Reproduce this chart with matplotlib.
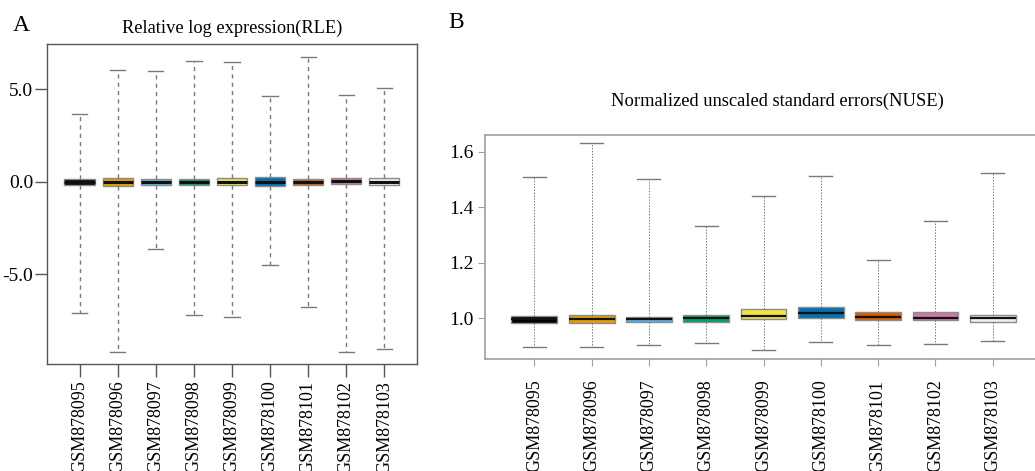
"""
Array quality control: RLE and NUSE boxplots for nine GSM samples.
"""

import matplotlib
matplotlib.use("Agg")
import matplotlib.pyplot as plt

plt.rcParams['font.family'] = ['Liberation Serif', 'DejaVu Serif']

samples = ['GSM878095', 'GSM878096', 'GSM878097', 'GSM878098', 'GSM878099',
           'GSM878100', 'GSM878101', 'GSM878102', 'GSM878103']
box_colors = ['#000000', '#E69F00', '#56B4E9', '#009E73', '#F0E442',
              '#0072B2', '#D55E00', '#CC79A7', '#EEEEEE']

# RLE statistics
rle_whislo = [-7.08, -9.20, -3.60, -7.21, -7.30, -4.50, -6.76, -9.19, -9.03]
rle_q1 = [-0.18, -0.22, -0.16, -0.18, -0.16, -0.20, -0.14, -0.12, -0.14]
rle_med = [0.0, 0.0, 0.0, 0.0, 0.0, 0.0, 0.0, 0.05, 0.0]
rle_q3 = [0.16, 0.20, 0.14, 0.14, 0.20, 0.27, 0.18, 0.20, 0.20]
rle_whishi = [3.69, 6.05, 6.02, 6.54, 6.49, 4.66, 6.76, 4.68, 5.06]

# NUSE statistics
nuse_whislo = [0.894, 0.896, 0.901, 0.910, 0.883, 0.914, 0.902, 0.907, 0.918]
nuse_q1 = [0.982, 0.982, 0.984, 0.987, 0.995, 0.999, 0.992, 0.992, 0.987]
nuse_med = [0.998, 0.998, 0.998, 1.000, 1.007, 1.017, 1.002, 1.001, 1.000]
nuse_q3 = [1.006, 1.011, 1.005, 1.010, 1.031, 1.040, 1.021, 1.021, 1.011]
nuse_whishi = [1.511, 1.631, 1.501, 1.333, 1.441, 1.513, 1.210, 1.351, 1.525]


def build_stats(lo, q1, med, q3, hi):
    return [dict(whislo=a, q1=b, med=c, q3=d, whishi=e, fliers=[])
            for a, b, c, d, e in zip(lo, q1, med, q3, hi)]


def draw_boxes(ax, stats, dash, whisk_lw, med_lw):
    bp = ax.bxp(stats, positions=range(1, len(stats) + 1), widths=0.8,
                patch_artist=True, showfliers=False,
                boxprops=dict(edgecolor='#8c8c8c', linewidth=1.0),
                whiskerprops=dict(color='#7a7a7a', linewidth=whisk_lw, linestyle=dash),
                capprops=dict(color='#7a7a7a', linewidth=1.0),
                medianprops=dict(color='#111111', linewidth=med_lw))
    for patch, col in zip(bp['boxes'], box_colors):
        patch.set_facecolor(col)
    for cap in bp['caps']:
        x0, x1 = cap.get_xdata()
        xm = (x0 + x1) / 2
        cap.set_xdata([xm - 0.2, xm + 0.2])
    ax.set_xlim(0.14, 9.86)
    ax.set_xticks(range(1, len(stats) + 1))
    ax.set_xticklabels(samples, rotation=90, fontsize=13)
    return bp


fig = plt.figure(figsize=(10.35, 4.71), dpi=100)

# Panel A: RLE
axA = fig.add_axes([0.0454, 0.2272, 0.3575, 0.6794])
draw_boxes(axA, build_stats(rle_whislo, rle_q1, rle_med, rle_q3, rle_whishi),
           (0, (3, 3)), 1.0, 2.2)
axA.set_ylim(-9.84, 7.46)
axA.set_yticks([5.0, 0.0, -5.0])
axA.set_yticklabels(['5.0', '0.0', '-5.0'], fontsize=14)
for sp in axA.spines.values():
    sp.set_color('#555555')
    sp.set_linewidth(1.0)
axA.tick_params(axis='both', length=9, width=1.0, color='#555555', pad=1)
axA.tick_params(axis='x', pad=3)
axA.set_title('Relative log expression(RLE)', fontsize=13.2, pad=8)
fig.text(0.012, 0.945, 'A', fontsize=17, ha='left', va='center')

# Panel B: NUSE
axB = fig.add_axes([0.4686, 0.2384, 0.5382, 0.475])
draw_boxes(axB, build_stats(nuse_whislo, nuse_q1, nuse_med, nuse_q3, nuse_whishi),
           (0, (1.5, 1.5)), 0.7, 1.6)
axB.set_ylim(0.853, 1.661)
axB.set_yticks([1.0, 1.2, 1.4, 1.6])
axB.set_yticklabels(['1.0', '1.2', '1.4', '1.6'], fontsize=14)
axB.spines['right'].set_visible(False)
for name in ['left', 'top', 'bottom']:
    axB.spines[name].set_color('#a0a0a0')
    axB.spines[name].set_linewidth(1.2)
axB.tick_params(axis='both', length=5, width=0.8, color='#a0a0a0', pad=3)
axB.tick_params(axis='x', pad=10)
fig.text(0.751, 0.785, 'Normalized unscaled standard errors(NUSE)',
         fontsize=13.3, ha='center', va='center')
fig.text(0.433, 0.953, 'B', fontsize=17, ha='left', va='center')

plt.savefig('out.png', dpi=100)
plt.close()
